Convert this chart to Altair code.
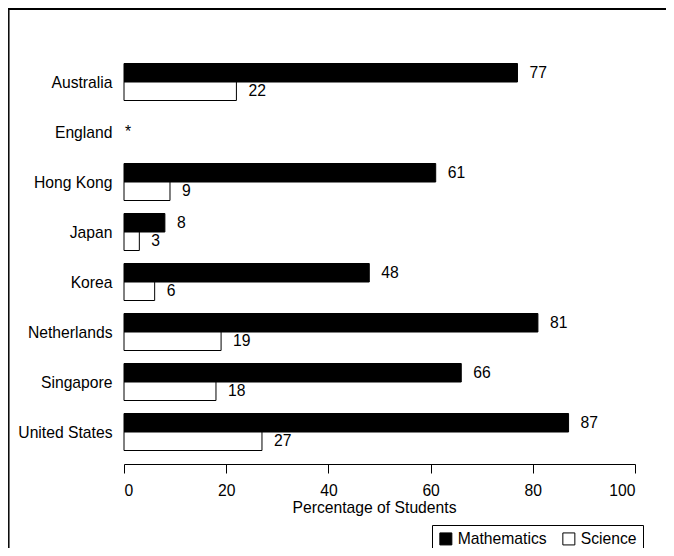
import altair as alt
import pandas as pd

countries = ["Australia", "England", "Hong Kong", "Japan", "Korea",
             "Netherlands", "Singapore", "United States"]
mathematics = [77, None, 61, 8, 48, 81, 66, 87]
science = [22, None, 9, 3, 6, 19, 18, 27]
series = ["Mathematics", "Science"]
x_ticks = [0, 20, 40, 60, 80, 100]

rows = []
for c, m, s in zip(countries, mathematics, science):
    if m is not None:
        rows.append({"country": c, "series": "Mathematics", "value": m})
    if s is not None:
        rows.append({"country": c, "series": "Science", "value": s})
df = pd.DataFrame(rows)
notes = pd.DataFrame([{"country": c, "value": 0, "note": "*"}
                      for c, m in zip(countries, mathematics) if m is None])

FONT = "Liberation Sans"
FS = 15.7

yscale = alt.Scale(domain=countries, paddingInner=0.26, paddingOuter=0.13)
xscale = alt.Scale(domain=[0, 100], nice=False)
yoff = alt.YOffset("series:N", scale=alt.Scale(domain=series, paddingInner=0, paddingOuter=0))

x_enc = alt.X("value:Q", scale=xscale,
              axis=alt.Axis(values=x_ticks, grid=False, title="Percentage of Students",
                            domainColor="black", tickColor="black", tickSize=9,
                            labelColor="black", labelFontSize=FS, labelFont=FONT,
                            labelPadding=10, titleFont=FONT, titleFontSize=FS,
                            titleFontWeight="normal", titleColor="black",
                            titlePadding=3, offset=7, titleX=250))
y_enc = alt.Y("country:N", scale=yscale,
              axis=alt.Axis(title=None, domain=False, ticks=False, tickSize=0,
                            labelPadding=12, labelFontSize=FS, labelFont=FONT,
                            labelColor="black", labelOffset=1))

bars = alt.Chart(df).mark_bar(stroke="black", strokeWidth=1).encode(
    x=x_enc,
    y=y_enc,
    yOffset=yoff,
    color=alt.Color("series:N", scale=alt.Scale(domain=series, range=["black", "white"]),
                    legend=alt.Legend(title=None, orient="none", legendX=308, legendY=468,
                                      direction="horizontal", strokeColor="black",
                                      padding=6, symbolType="square", symbolSize=144,
                                      symbolStrokeColor="black", symbolStrokeWidth=1,
                                      labelFontSize=FS, labelFont=FONT, labelColor="black",
                                      labelOffset=4, columnPadding=13)),
)

labels = alt.Chart(df).mark_text(align="left", baseline="middle", dx=12,
                                 fontSize=FS, font=FONT, color="black").encode(
    x=alt.X("value:Q", scale=xscale),
    y=alt.Y("country:N", scale=yscale),
    yOffset=yoff,
    text=alt.Text("value:Q"),
)

stars = alt.Chart(notes).mark_text(align="left", baseline="middle", dx=1,
                                   fontSize=FS, font=FONT, color="black").encode(
    x=alt.X("value:Q", scale=xscale),
    y=alt.Y("country:N", scale=yscale),
    text="note:N",
)

frame_left = alt.Chart(alt.Data(values=[{}])).mark_rule(color="black", strokeWidth=1.5).encode(
    x=alt.value(-115.2), y=alt.value(-49), y2=alt.value(500))
frame_top = alt.Chart(alt.Data(values=[{}])).mark_rule(color="black", strokeWidth=2).encode(
    x=alt.value(-116), x2=alt.value(543), y=alt.value(-48))

chart = alt.layer(bars, labels, stars, frame_left, frame_top).properties(
    width=511, height=400,
    autosize=alt.AutoSizeParams(type="none"),
    padding={"left": 116, "top": 49, "right": 31, "bottom": 91},
    background="white",
).configure_view(stroke=None)

chart.save("out.html", embed_options={"renderer": "svg", "actions": False})
